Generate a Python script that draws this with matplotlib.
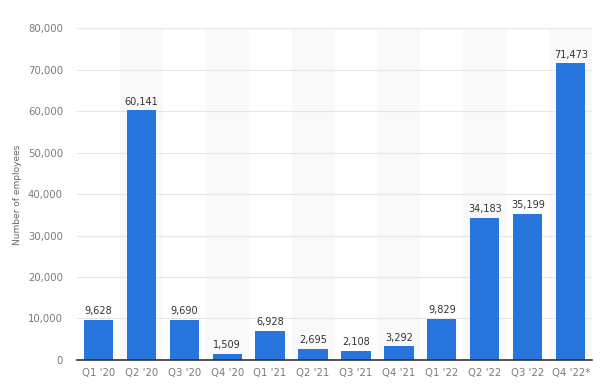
import matplotlib.pyplot as plt
import numpy as np

quarters = ["Q1 '20", "Q2 '20", "Q3 '20", "Q4 '20", "Q1 '21", "Q2 '21",
            "Q3 '21", "Q4 '21", "Q1 '22", "Q2 '22", "Q3 '22", "Q4 '22*"]
employees = [9628, 60141, 9690, 1509, 6928, 2695, 2108, 3292, 9829, 34183, 35199, 71473]
yticks = [0, 10000, 20000, 30000, 40000, 50000, 60000, 70000, 80000]

fig = plt.figure(figsize=(6, 3.9), dpi=100)
ax = fig.add_axes([0.128, 0.077, 0.859, 0.851])

x = np.arange(len(quarters))
# alternating background bands
for i in x:
    if i % 2 == 1:
        ax.axvspan(i - 0.5, i + 0.5, color='#f9f9f9', zorder=0, lw=0)

ax.bar(x, employees, width=0.68, color='#2876dd', zorder=3)
for xi, v in zip(x, employees):
    ax.text(xi, v + 900, f"{v:,}", ha='center', va='bottom', fontsize=7,
            color='#333333', zorder=4)

ax.set_xlim(-0.5, len(quarters) - 0.5)
ax.set_ylim(0, 80000)
ax.set_yticks(yticks)
ax.set_yticklabels([f"{t:,}" for t in yticks])
ax.set_xticks(x)
ax.set_xticklabels(quarters)
ax.tick_params(axis='both', length=0, labelsize=7.3, colors='#7a7a7a')
ax.tick_params(axis='y', pad=10)
ax.tick_params(axis='x', pad=6)
ax.yaxis.grid(True, color='#e6e6e6', lw=0.8, zorder=1)
ax.set_axisbelow(True)
for s in ['top', 'right', 'left']:
    ax.spines[s].set_visible(False)
ax.spines['bottom'].set_color('#333333')
ax.spines['bottom'].set_linewidth(1.2)
ax.spines['bottom'].set_zorder(5)

fig.text(0.03, 0.5, "Number of employees", rotation=90, ha='center', va='center',
         fontsize=6.5, color='#666666')

fig.savefig("out.png", dpi=100)
